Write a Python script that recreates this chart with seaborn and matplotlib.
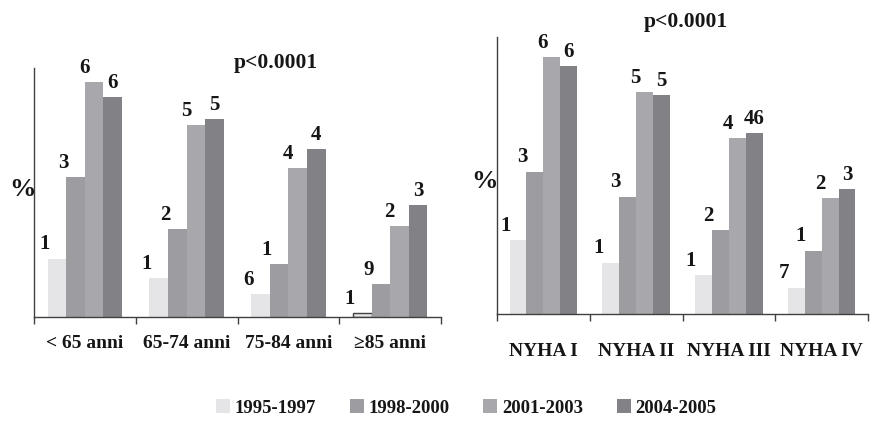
import matplotlib
matplotlib.use("Agg")
import matplotlib.pyplot as plt
from matplotlib.patches import Patch
import seaborn as sns
import pandas as pd

sns.set_theme(style="white")
plt.rcParams['font.family'] = ['Liberation Serif', 'DejaVu Serif']
plt.rcParams['font.weight'] = 'bold'

periods = ["1995-1997", "1998-2000", "2001-2003", "2004-2005"]
colors = ["#e5e5e7", "#9d9da1", "#a8a8ac", "#818186"]

age_groups = ["< 65 anni", "65-74 anni", "75-84 anni", "\u226585 anni"]
age_values = [
    [16.2, 38.9, 65.1, 61.0],
    [10.7, 24.4, 53.2, 54.9],
    [6.3, 14.6, 41.4, 46.6],
    [1.1, 9.1, 25.2, 31.0],
]
age_labels = [
    ["1", "3", "6", "6"],
    ["1", "2", "5", "5"],
    ["6", "1", "4", "4"],
    ["1", "9", "2", "3"],
]

nyha_groups = ["NYHA I", "NYHA II", "NYHA III", "NYHA IV"]
nyha_values = [
    [18.9, 36.6, 66.1, 63.8],
    [13.2, 30.2, 57.1, 56.2],
    [10.1, 21.5, 45.3, 46.6],
    [6.8, 16.3, 29.9, 32.2],
]
nyha_labels = [
    ["1", "3", "6", "6"],
    ["1", "3", "5", "5"],
    ["1", "2", "4", "46"],
    ["7", "1", "2", "3"],
]

p_text = "p<0.0001"
y_text = "%"

W, H = 880, 421
TXT = "#161616"
fig = plt.figure(figsize=(W / 100, H / 100), dpi=100)


def px_axes(x0, y0, x1, y1):
    return fig.add_axes([x0 / W, 1 - y1 / H, (x1 - x0) / W, (y1 - y0) / H])


def draw(ax, groups, values, labels, ymax, label_pad):
    rows = []
    for g, vals in zip(groups, values):
        for p, v in zip(periods, vals):
            rows.append({"group": g, "period": p, "value": v})
    df = pd.DataFrame(rows)
    sns.barplot(data=df, x="group", y="value", hue="period", order=groups,
                hue_order=periods, palette=colors, width=0.73, saturation=1,
                ax=ax, legend=False, errorbar=None, linewidth=0)
    offsets = [-9, -9, -7, 0]
    for hi, cont in enumerate(ax.containers):
        for gi, bar in enumerate(cont):
            x = bar.get_x() + bar.get_width() / 2
            h = bar.get_height()
            ax.annotate(labels[gi][hi], (x, h), xytext=(offsets[hi], 3),
                        textcoords="offset points", ha="center", va="bottom",
                        fontsize=15, fontweight="bold", color=TXT)
    ax.set_ylim(0, ymax)
    ax.set_xlim(-0.5, len(groups) - 0.5)
    ax.set_xlabel("")
    ax.set_ylabel("")
    ax.set_yticks([])
    ax.set_xticks([i - 0.5 for i in range(len(groups) + 1)])
    ax.set_xticklabels([])
    ax.set_xticks(range(len(groups)), minor=True)
    ax.set_xticklabels(groups, minor=True, fontsize=14, fontweight="bold",
                       color=TXT)
    ax.tick_params(axis="x", which="major", direction="out", length=5,
                   width=1, color="#404040", bottom=True)
    ax.tick_params(axis="x", which="minor", length=0, pad=label_pad)
    for s in ["top", "right"]:
        ax.spines[s].set_visible(False)
    for s in ["left", "bottom"]:
        ax.spines[s].set_color("#404040")
        ax.spines[s].set_linewidth(1)
    ax.set_facecolor("none")


ax1 = px_axes(34, 68, 441, 317)
draw(ax1, age_groups, age_values, age_labels, 69.1, 13)
# tiny bar drawn with outline
ax1.containers[0][3].set_edgecolor("#404040")
ax1.containers[0][3].set_linewidth(1)

ax2 = px_axes(497, 37, 868, 314)
draw(ax2, nyha_groups, nyha_values, nyha_labels, 71.2, 21)

fig.text(22 / W, 1 - 190 / H, y_text, ha="center", va="center",
         fontsize=19, fontweight="bold", color=TXT)
fig.text(484 / W, 1 - 182 / H, y_text, ha="center", va="center",
         fontsize=19, fontweight="bold", color=TXT)
fig.text(276 / W, 1 - 63 / H, p_text, ha="center", va="center",
         fontsize=15.5, fontweight="bold", color=TXT)
fig.text(686 / W, 1 - 22 / H, p_text, ha="center", va="center",
         fontsize=15.5, fontweight="bold", color=TXT)

handles = [Patch(facecolor=c, edgecolor="none") for c in colors]
fig.legend(handles, periods, loc="center", bbox_to_anchor=(466 / W, 1 - 408 / H),
           ncol=4, frameon=False, handlelength=0.75, handleheight=0.75,
           handletextpad=0.25, columnspacing=1.8,
           prop={"size": 13.5, "weight": "bold"}, labelcolor=TXT)

fig.savefig("out.png", dpi=100, facecolor="white")
